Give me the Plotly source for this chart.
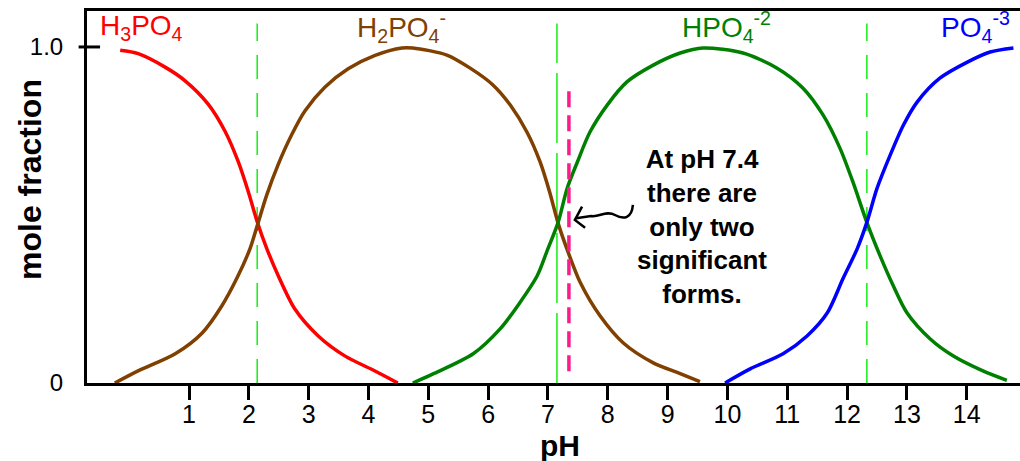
import plotly.graph_objects as go

# ---- data (pH, mole fraction) ----
h3po4_ph = [-0.15, 0.15, 0.60, 0.93, 1.32, 1.60, 1.82, 1.99, 2.14, 2.30, 2.49, 2.77, 3.16, 3.61, 4.06, 4.49]
h3po4_fr = [0.99, 0.98, 0.94, 0.90, 0.83, 0.75, 0.66, 0.57, 0.48, 0.40, 0.32, 0.22, 0.14, 0.08, 0.04, 0.0]

h2po4_ph = [-0.24, 0.15, 0.77, 1.22, 1.55, 1.82, 2.02, 2.14, 2.30, 2.49, 2.72, 2.94, 3.27, 3.66, 4.11, 4.56,
            4.74, 5.31, 5.70, 6.08, 6.37, 6.65, 6.87, 7.03, 7.17, 7.34, 7.54, 7.87, 8.26, 8.76, 9.21, 9.54]
h2po4_fr = [0.0, 0.036, 0.087, 0.149, 0.230, 0.319, 0.40, 0.468, 0.56, 0.65, 0.74, 0.81, 0.88, 0.935, 0.975, 0.997,
            0.997, 0.976, 0.937, 0.887, 0.827, 0.746, 0.657, 0.567, 0.475, 0.388, 0.299, 0.20, 0.119, 0.060, 0.028, 0.004]

hpo4_ph = [4.74, 5.08, 5.75, 6.20, 6.53, 6.82, 7.00, 7.17, 7.32, 7.49, 7.70, 7.99, 8.32, 8.76, 9.21, 9.59,
           10.26, 10.83, 11.26, 11.60, 11.88, 12.10, 12.33, 12.55, 12.77, 13.00, 13.39, 13.77, 14.27, 14.67]
hpo4_fr = [0.0, 0.027, 0.087, 0.161, 0.239, 0.319, 0.40, 0.478, 0.579, 0.657, 0.746, 0.827, 0.896, 0.946, 0.982, 0.997,
           0.982, 0.937, 0.878, 0.797, 0.699, 0.597, 0.478, 0.379, 0.290, 0.209, 0.131, 0.081, 0.036, 0.008]

po4_ph = [9.96, 10.38, 10.93, 11.33, 11.67, 11.93, 12.17, 12.33, 12.50, 12.72, 12.94, 13.17, 13.55, 14.01, 14.39, 14.78]
po4_fr = [0.0, 0.042, 0.087, 0.140, 0.209, 0.310, 0.40, 0.478, 0.579, 0.678, 0.767, 0.836, 0.907, 0.955, 0.985, 0.997]

pka_values = [2.14, 7.15, 12.33]
blood_ph = 7.35
x_ticks = [1, 2, 3, 4, 5, 6, 7, 8, 9, 10, 11, 12, 13, 14]
y_ticks = [0, 1.0]
y_ticktext = ["0", "1.0"]

species_labels = ["H<sub>3</sub>PO<sub>4</sub>", "H<sub>2</sub>PO<sub>4</sub><sup>-</sup>",
                  "HPO<sub>4</sub><sup>-2</sup>", "PO<sub>4</sub><sup>-3</sup>"]
label_ph = [0.2, 4.56, 9.98, 14.15]

RED = "#ff0000"
BROWN = "#804000"
GREEN = "#008000"
BLUE = "#0000ff"
LIME = "#22ee22"
PINK = "#ff1a8c"
FONT = "Liberation Sans, Arial, sans-serif"

fig = go.Figure()
for xs, ys, col in [(h3po4_ph, h3po4_fr, RED), (h2po4_ph, h2po4_fr, BROWN),
                    (hpo4_ph, hpo4_fr, GREEN), (po4_ph, po4_fr, BLUE)]:
    fig.add_trace(go.Scatter(x=xs, y=ys, mode="lines", line=dict(color=col, width=3.5, shape="spline", smoothing=0.8),
                             hoverinfo="skip", showlegend=False))

# pKa lines
dashes = ["24px,14px", "70px,10px", "24px,14px"]
for pk, ds in zip(pka_values, dashes):
    fig.add_shape(type="line", xref="x", yref="y", x0=pk, x1=pk, y0=0.0, y1=1.07,
                  line=dict(color=LIME, width=1.6, dash=ds), layer="below")

# pH 7.4 line
fig.add_shape(type="line", xref="x", yref="y", x0=blood_ph, x1=blood_ph, y0=0.035, y1=0.88,
              line=dict(color=PINK, width=3.5, dash="16px,8px"))

# squiggly arrow
fig.add_shape(type="path", xref="x", yref="y",
              path="M 8.42,0.53 C 8.40,0.49 8.27,0.485 8.12,0.5 C 7.97,0.515 7.85,0.492 7.72,0.497 L 7.47,0.49",
              line=dict(color="black", width=2.5))
fig.add_shape(type="path", xref="x", yref="y",
              path="M 7.57,0.525 L 7.45,0.485 L 7.62,0.462",
              line=dict(color="black", width=2.5))

# y tick mark crossing axis at 1.0
fig.add_shape(type="line", xref="x domain", yref="y", x0=-0.009, x1=0.014, y0=1.0, y1=1.0,
              line=dict(color="black", width=3))

for txt, xp, col in zip(species_labels, label_ph, [RED, BROWN, GREEN, BLUE]):
    fig.add_annotation(x=xp, y=1.058, xref="x", yref="y", text=txt, showarrow=False,
                       font=dict(family=FONT, size=28, color=col), xanchor="center", yanchor="middle")

fig.add_annotation(x=9.58, y=0.465, xref="x", yref="y",
                   text="At pH 7.4<br>there are<br>only two<br>significant<br>forms.",
                   showarrow=False, align="center", xanchor="center", yanchor="middle",
                   font=dict(family=FONT, size=26, color="black", weight="bold"))

fig.add_annotation(x=-0.061, y=0.546, xref="paper", yref="paper", text="mole fraction", textangle=-90,
                   showarrow=False, xanchor="center", yanchor="middle",
                   font=dict(family=FONT, size=32, color="black", weight="bold"))
fig.add_annotation(x=7.2, y=-0.167, xref="x", yref="paper", text="pH", showarrow=False,
                   xanchor="center", yanchor="middle",
                   font=dict(family=FONT, size=30, color="black", weight="bold"))

fig.update_layout(
    width=1020, height=461,
    margin=dict(l=87, r=0, t=11, b=78, autoexpand=False),
    paper_bgcolor="white", plot_bgcolor="white",
    xaxis=dict(range=[-0.705, 14.89], tickvals=x_ticks, ticks="outside", ticklen=14, tickwidth=3,
               tickcolor="black", showline=True, linecolor="black", linewidth=3, mirror=True,
               showgrid=False, zeroline=False, ticklabelstandoff=-7,
               tickfont=dict(family=FONT, size=25, color="black")),
    yaxis=dict(range=[0, 1.107], tickvals=y_ticks, ticktext=y_ticktext, ticks="", ticklabelstandoff=16,
               showline=True, linecolor="black", linewidth=3, showgrid=False, zeroline=False,
               tickfont=dict(family=FONT, size=24, color="black")),
)

fig.write_html("out.html", config={"displayModeBar": False},
               post_script="document.body.style.margin='0';document.body.style.padding='0';")
